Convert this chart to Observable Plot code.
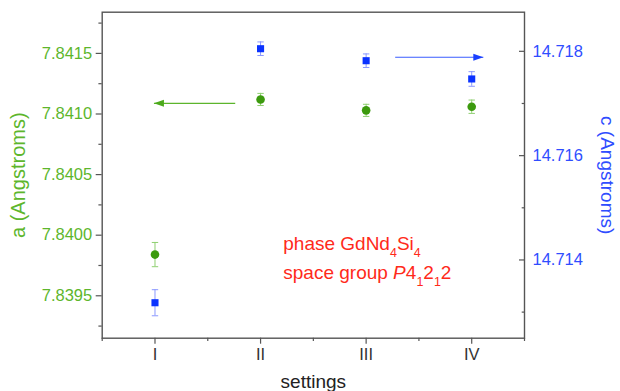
<!DOCTYPE html>
<html><head><meta charset="utf-8">
<script src="https://cdn.jsdelivr.net/npm/d3@7"></script>
<script src="https://cdn.jsdelivr.net/npm/@observablehq/plot@0.6"></script>
<style>
body{margin:0;background:#fff;}
#chart{width:620px;height:391px;font-family:"Liberation Sans",Arial,sans-serif;}
</style></head><body><div id="chart"></div>
<script>
// ---- data ----
const settings = ["I", "II", "III", "IV"];
const settingPos = [1, 2, 3, 4];
const aValues = [7.83984, 7.84112, 7.84103, 7.84106];
const aErrors = [0.00010, 0.00005, 0.00005, 0.000055];
const cValues = [14.71318, 14.71805, 14.71782, 14.71747];
const cErrors = [0.00025, 0.00013, 0.00013, 0.00014];
const aTicks = [7.8395, 7.8400, 7.8405, 7.8410, 7.8415];
const aMinorTicks = [7.83925, 7.83975, 7.84025, 7.84075, 7.84125, 7.84175];
const cTicks = [14.714, 14.716, 14.718];
const cMinorTicks = [14.713, 14.715, 14.717];
const xMinorTicks = [0.5, 1.5, 2.5, 3.5, 4.5];
const aDomain = [7.83915, 7.84184];
const cDomain = [14.7125, 14.71875];
const xDomain = [0.5, 4.5];
// arrows: [x1, x2, value]
const aArrow = {x1: 1.76, x2: 0.99, value: 7.841088};
const cArrow = {x1: 3.275, x2: 4.11, value: 14.717885};
const notes = ["phase GdNd_4Si_4", "space group *P*4_12_12"];
const notePos = [{x: 2.215, a: 7.83993}, {x: 2.215, a: 7.83969}];

// ---- helpers ----
const cToA = c => aDomain[0] + (c - cDomain[0]) * (aDomain[1] - aDomain[0]) / (cDomain[1] - cDomain[0]);
const aToC = a => cDomain[0] + (a - aDomain[0]) * (cDomain[1] - cDomain[0]) / (aDomain[1] - aDomain[0]);

const rows = settingPos.map((x, i) => ({
  x, name: settings[i],
  a: aValues[i], aLo: aValues[i] - aErrors[i], aHi: aValues[i] + aErrors[i],
  c: cToA(cValues[i]), cLo: cToA(cValues[i] - cErrors[i]), cHi: cToA(cValues[i] + cErrors[i])
}));

const capSymbol = {draw(ctx) { ctx.moveTo(-3.2, 0); ctx.lineTo(3.2, 0); }};
const headRight = {draw(ctx) { ctx.moveTo(0, 0); ctx.lineTo(-10, -3.5); ctx.lineTo(-10, 3.5); ctx.closePath(); }};
const headLeft = {draw(ctx) { ctx.moveTo(0, 0); ctx.lineTo(10, -3.5); ctx.lineTo(10, 3.5); ctx.closePath(); }};

const GREEN = "#3c9a0e", GREEN_LIGHT = "#8fcf70", GREEN_TEXT = "#5db62c";
const BLUE = "#0a32ff", BLUE_LIGHT = "#8a98ff", BLUE_TEXT = "#2f4dff";
const AXIS = "#555";
const FONT = "Liberation Sans, Arial, sans-serif";

const arrowsA = [{x1: aArrow.x1, x2: aArrow.x2, y: aArrow.value}];
const arrowsC = [{x1: cArrow.x1, x2: cArrow.x2, y: cToA(cArrow.value)}];
const noteRows = notes.map((t, i) => ({t, x: notePos[i].x, y: notePos[i].a}));

const chart = Plot.plot({
  width: 620, height: 391,
  marginLeft: 101.7, marginRight: 96, marginTop: 11.7, marginBottom: 53.3,
  style: {fontFamily: FONT, background: "#fff"},
  x: {domain: xDomain, axis: null},
  y: {domain: aDomain, axis: null},
  marks: [
    // axes
    Plot.axisY({ticks: aTicks, anchor: "left", tickSize: 6, tickPadding: 4, tickFormat: d3.format(".4f"),
      stroke: AXIS, strokeWidth: 1.2, fill: GREEN_TEXT, fontSize: 16.5, label: null}),
    Plot.axisY({ticks: aMinorTicks, anchor: "left", tickSize: 3.3, stroke: AXIS, strokeWidth: 1.2, fill: "none", label: null}),
    Plot.axisY({ticks: cTicks.map(cToA), anchor: "right", tickSize: 6, dx: -6, stroke: AXIS, strokeWidth: 1.2, fill: "none", label: null}),
    Plot.axisY({ticks: cMinorTicks.map(cToA), anchor: "right", tickSize: 3.3, dx: -3.3, stroke: AXIS, strokeWidth: 1.2, fill: "none", label: null}),
    Plot.axisY({ticks: cTicks.map(cToA), anchor: "right", tickSize: 0, tickPadding: 8,
      tickFormat: d => aToC(d).toFixed(3), fill: BLUE_TEXT, fontSize: 16.5, label: null}),
    Plot.axisX({ticks: settingPos, anchor: "bottom", tickSize: 6, tickPadding: 4,
      tickFormat: d => settings[settingPos.indexOf(d)], stroke: AXIS, strokeWidth: 1.2, fill: "#333", fontSize: 16.5, label: null}),
    Plot.axisX({ticks: xMinorTicks, anchor: "bottom", tickSize: 3.3, stroke: AXIS, strokeWidth: 1.2, fill: "none", label: null}),
    Plot.frame({stroke: AXIS, strokeWidth: 1.4}),
    // axis titles
    Plot.text(["a (Angstroms)"], {frameAnchor: "left", dx: -84, rotate: -90, fill: GREEN_TEXT, fontSize: 20, textAnchor: "middle", lineAnchor: "middle"}),
    Plot.text(["c (Angstroms)"], {frameAnchor: "right", dx: 83, rotate: 90, fill: BLUE_TEXT, fontSize: 19, textAnchor: "middle", lineAnchor: "middle"}),
    Plot.text(["settings"], {frameAnchor: "bottom", dy: 44, fill: "#222", fontSize: 19, textAnchor: "middle", lineAnchor: "middle"}),
    // error bars a
    Plot.ruleX(rows, {x: "x", y1: "aLo", y2: "aHi", stroke: GREEN_LIGHT, strokeWidth: 1}),
    Plot.dot(rows, {x: "x", y: "aLo", symbol: capSymbol, stroke: GREEN_LIGHT, strokeWidth: 1, fill: "none"}),
    Plot.dot(rows, {x: "x", y: "aHi", symbol: capSymbol, stroke: GREEN_LIGHT, strokeWidth: 1, fill: "none"}),
    // error bars c
    Plot.ruleX(rows, {x: "x", y1: "cLo", y2: "cHi", stroke: BLUE_LIGHT, strokeWidth: 1}),
    Plot.dot(rows, {x: "x", y: "cLo", symbol: capSymbol, stroke: BLUE_LIGHT, strokeWidth: 1, fill: "none"}),
    Plot.dot(rows, {x: "x", y: "cHi", symbol: capSymbol, stroke: BLUE_LIGHT, strokeWidth: 1, fill: "none"}),
    // markers
    Plot.dot(rows, {x: "x", y: "a", r: 4.3, fill: GREEN, stroke: "none", symbol: "circle"}),
    Plot.dot(rows, {x: "x", y: "c", r: 4, fill: BLUE, stroke: "none", symbol: "square"}),
    // arrows
    Plot.link(arrowsA, {x1: "x1", x2: "x2", y1: "y", y2: "y", stroke: "#5cb52c", strokeWidth: 1.1}),
    Plot.dot(arrowsA, {x: "x2", y: "y", symbol: headLeft, fill: "#4caa1c", stroke: "none"}),
    Plot.link(arrowsC, {x1: "x1", x2: "x2", y1: "y", y2: "y", stroke: "#3a5cff", strokeWidth: 1.1}),
    Plot.dot(arrowsC, {x: "x2", y: "y", symbol: headRight, fill: "#1a40ff", stroke: "none"}),
    // annotation
    Plot.text(noteRows, {x: "x", y: "y", text: "t", fill: "#ff2a1a", fontSize: 19, textAnchor: "start", lineAnchor: "middle"})
  ]
});

// rich text: subscripts (_n) and italics (*P*)
const NS = "http://www.w3.org/2000/svg";
chart.querySelectorAll("text").forEach(el => {
  const raw = el.textContent;
  if (!notes.includes(raw)) return;
  el.textContent = "";
  const parts = raw.split(/(_\d|\*[^*]+\*)/).filter(s => s.length);
  let shifted = false;
  parts.forEach(p => {
    const ts = document.createElementNS(NS, "tspan");
    if (p.startsWith("_")) {
      ts.textContent = p.slice(1);
      ts.setAttribute("font-size", "12.5");
      ts.setAttribute("dy", "7");
      shifted = true;
    } else {
      if (shifted) { ts.setAttribute("dy", "-7"); shifted = false; }
      if (p.startsWith("*")) { ts.textContent = p.slice(1, -1); ts.setAttribute("font-style", "italic"); }
      else ts.textContent = p;
    }
    el.appendChild(ts);
  });
});

document.getElementById("chart").appendChild(chart);
</script>
</body></html>
